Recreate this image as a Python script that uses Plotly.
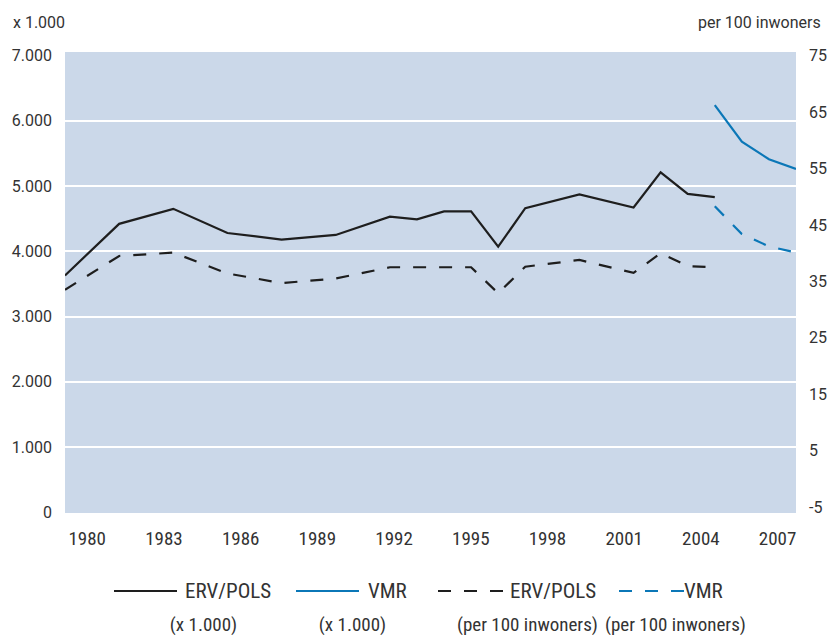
import plotly.graph_objects as go

# ---------------- data ----------------
erv_years = [1980, 1982, 1984, 1986, 1988, 1990, 1992, 1993, 1994, 1995, 1996,
             1997, 1999, 2001, 2002, 2003, 2004]
erv_abs = [3630, 4420, 4650, 4280, 4180, 4250, 4530, 4490, 4610, 4610, 4070,
           4660, 4870, 4670, 5210, 4880, 4830]          # x 1.000
erv_rel = [33.5, 39.5, 40.1, 36.4, 34.7, 35.5, 37.5, 37.5, 37.5, 37.5, 32.9,
           37.6, 38.8, 36.5, 40.0, 37.7, 37.5]          # per 100 inwoners

vmr_years = [2004, 2005, 2006, 2007]
vmr_abs = [6240, 5680, 5410, 5260]                      # x 1.000
vmr_rel = [48.3, 43.4, 41.2, 40.1]                      # per 100 inwoners

x_tick_years = [1980, 1983, 1986, 1989, 1992, 1995, 1998, 2001, 2004, 2007]
x_tick_labels = ["1980", "1983", "1986", "1989", "1992", "1995", "1998", "2001", "2004", "2007"]
left_ticks = [0, 1000, 2000, 3000, 4000, 5000, 6000, 7000]
left_tick_labels = ["0", "1.000", "2.000", "3.000", "4.000", "5.000", "6.000", "7.000"]
grid_ticks = [1000, 2000, 3000, 4000, 5000, 6000]
right_ticks = [-5, 5, 15, 25, 35, 45, 55, 65, 75]
right_tick_labels = ["-5", "5", "15", "25", "35", "45", "55", "65", "75"]

legend_names = ["ERV/POLS", "VMR", "ERV/POLS", "VMR"]
legend_units = ["(x 1.000)", "(x 1.000)", "(per 100 inwoners)", "(per 100 inwoners)"]

# ---------------- style ----------------
BLACK = "#1e1e1e"
BLUE = "#0b77b7"
BG = "#cbd8e9"
TXT = "#333333"
COND = "Roboto, Liberation Sans"     # marker family -> rendered with condensed stretch
REG = "Roboto, sans-serif"
DASH = "13px,13px"
LW = 2.2

W, H = 831, 635
L, R, T, B = 65, 35, 52, 122
PW, PH = W - L - R, H - T - B


def px_x(p):
    return (p - L) / PW


def px_y(p):
    return (H - B - p) / PH


fig = go.Figure()

fig.add_trace(go.Scatter(x=erv_years, y=erv_abs, mode="lines",
                         line=dict(color=BLACK, width=LW), xaxis="x", yaxis="y",
                         showlegend=False, hoverinfo="skip"))
fig.add_trace(go.Scatter(x=vmr_years, y=vmr_abs, mode="lines",
                         line=dict(color=BLUE, width=LW), xaxis="x", yaxis="y",
                         showlegend=False, hoverinfo="skip"))
fig.add_trace(go.Scatter(x=erv_years, y=erv_rel, mode="lines",
                         line=dict(color=BLACK, width=LW, dash=DASH), xaxis="x", yaxis="y2",
                         showlegend=False, hoverinfo="skip"))
fig.add_trace(go.Scatter(x=vmr_years, y=vmr_rel, mode="lines",
                         line=dict(color=BLUE, width=LW, dash=DASH), xaxis="x", yaxis="y2",
                         showlegend=False, hoverinfo="skip"))
# invisible helpers so the label / grid axes are drawn
fig.add_trace(go.Scatter(x=x_tick_years, y=[None] * len(x_tick_years), xaxis="x2", yaxis="y",
                         mode="lines", showlegend=False, hoverinfo="skip"))
fig.add_trace(go.Scatter(x=erv_years, y=[None] * len(erv_years), xaxis="x", yaxis="y3",
                         mode="lines", showlegend=False, hoverinfo="skip"))

fig.update_layout(
    width=W, height=H,
    margin=dict(l=L, r=R, t=T, b=B, pad=0, autoexpand=False),
    paper_bgcolor="white",
    plot_bgcolor=BG,
    font=dict(family=REG, size=16, color=TXT),
    xaxis=dict(range=[1980, 2007], showticklabels=False, showgrid=False,
               zeroline=False, showline=False, ticks="", automargin=False),
    xaxis2=dict(range=[1979.13, 2007.72], overlaying="x", anchor="y", side="bottom",
                tickvals=x_tick_years, ticktext=x_tick_labels, showgrid=False,
                zeroline=False, showline=False, ticks="", ticklabelstandoff=12,
                automargin=False, tickfont=dict(family=COND, size=19, color=TXT)),
    yaxis=dict(range=[-10, 7053], tickvals=left_ticks, ticktext=left_tick_labels,
               showgrid=False, zeroline=False, showline=False, ticks="",
               ticklabelstandoff=12, automargin=False,
               tickfont=dict(family=REG, size=16, color=TXT)),
    yaxis3=dict(range=[-10, 7053], overlaying="y", tickvals=grid_ticks,
                showticklabels=False, showgrid=True, gridcolor="white", gridwidth=2,
                zeroline=False, showline=False, ticks="", layer="below traces",
                automargin=False),
    yaxis2=dict(range=[-6.06, 75.66], overlaying="y", side="right", anchor="x",
                tickvals=right_ticks, ticktext=right_tick_labels, showgrid=False,
                zeroline=False, showline=False, ticks="", ticklabelstandoff=12,
                automargin=False, tickfont=dict(family=REG, size=16, color=TXT)),
)

annotations = [
    dict(text="x 1.000", xref="paper", yref="paper", x=px_x(11.5), y=px_y(22.5),
         xanchor="left", yanchor="middle", showarrow=False,
         font=dict(family=REG, size=16, color=TXT)),
    dict(text="per 100 inwoners", xref="paper", yref="paper", x=px_x(823), y=px_y(22.5),
         xanchor="right", yanchor="middle", showarrow=False,
         font=dict(family=REG, size=16, color=TXT)),
]

# legend (drawn manually to reproduce the two-row layout)
row1, row2 = 591, 624
samples = [(114, 177, BLACK, "solid"), (296, 359, BLUE, "solid"),
           (438, 503, BLACK, DASH), (619, 684, BLUE, DASH)]
name_cx = [228, 387, 553, 703]
unit_cx = [203, 352, 527, 675]
shapes = []
for (x0, x1, col, dash), nx, ux, nm, un in zip(samples, name_cx, unit_cx, legend_names, legend_units):
    shapes.append(dict(type="line", xref="paper", yref="paper",
                       x0=px_x(x0), x1=px_x(x1), y0=px_y(row1), y1=px_y(row1),
                       line=dict(color=col, width=LW, dash=dash)))
    annotations.append(dict(text=nm, xref="paper", yref="paper", x=px_x(nx), y=px_y(row1),
                            xanchor="center", yanchor="middle", showarrow=False,
                            font=dict(family=COND, size=21, color=TXT)))
    annotations.append(dict(text=un, xref="paper", yref="paper", x=px_x(ux), y=px_y(row2),
                            xanchor="center", yanchor="middle", showarrow=False,
                            font=dict(family=COND, size=19, color=TXT)))

fig.update_layout(annotations=annotations, shapes=shapes)

post = """
document.body.style.margin = '0';
document.querySelectorAll('text').forEach(function (t) {
  var f = t.style.fontFamily || '';
  if (f.indexOf('Liberation') >= 0) { t.style.fontStretch = 'condensed'; }
});
"""

fig.write_html("out.html", post_script=post, config={"displayModeBar": False})
